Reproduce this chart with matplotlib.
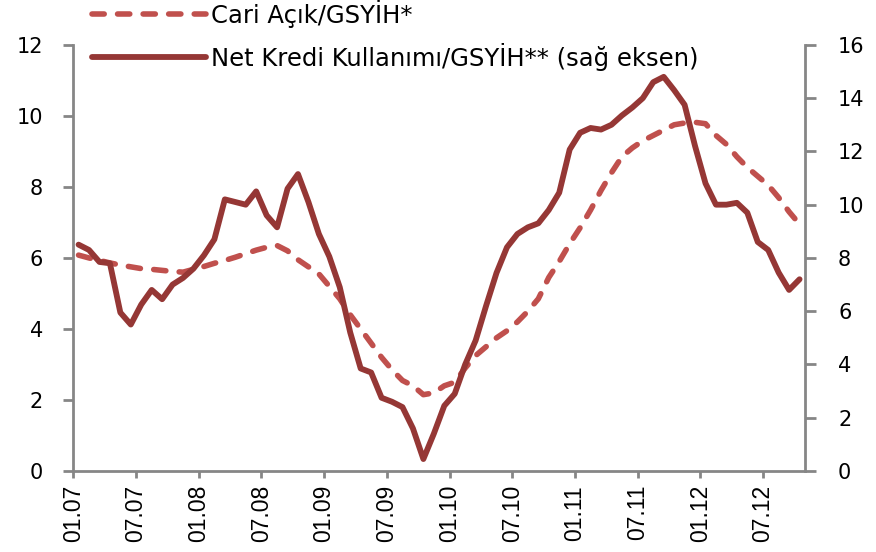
import numpy as np
import matplotlib
matplotlib.use("Agg")
import matplotlib.pyplot as plt

# aylik veriler, 01.07 - 10.12
cari_acik = [6.08, 6.0, 5.93, 5.86, 5.8, 5.75, 5.7, 5.68, 5.65, 5.62,
             5.6, 5.68, 5.76, 5.85, 5.93, 6.02, 6.12, 6.22, 6.3, 6.35,
             6.2, 5.95, 5.75, 5.55, 5.2, 4.85, 4.4, 4.0, 3.6, 3.2,
             2.85, 2.55, 2.4, 2.15, 2.2, 2.4, 2.5, 2.9, 3.25, 3.5,
             3.75, 3.95, 4.2, 4.5, 4.85, 5.45, 5.9, 6.4, 6.85, 7.35,
             7.9, 8.4, 8.85, 9.1, 9.3, 9.45, 9.6, 9.75, 9.8, 9.82,
             9.78, 9.45, 9.2, 8.85, 8.55, 8.3, 8.05, 7.7, 7.3, 6.95]

net_kredi = [8.5, 8.3, 7.85, 7.8, 5.95, 5.5, 6.25, 6.8, 6.45, 7.0,
             7.25, 7.6, 8.1, 8.7, 10.2, 10.1, 10.0, 10.5, 9.6, 9.15,
             10.6, 11.15, 10.1, 8.9, 8.05, 6.9, 5.2, 3.85, 3.7, 2.75,
             2.6, 2.4, 1.6, 0.45, 1.4, 2.45, 2.9, 4.0, 4.9, 6.2,
             7.44, 8.4, 8.9, 9.15, 9.3, 9.8, 10.45, 12.07, 12.7, 12.88,
             12.82, 13.0, 13.35, 13.65, 14.0, 14.6, 14.8, 14.3, 13.75, 12.2,
             10.8, 10.0, 10.0, 10.07, 9.7, 8.6, 8.3, 7.45, 6.8, 7.2]

tick_labels = ['01.07', '07.07', '01.08', '07.08', '01.09', '07.09',
               '01.10', '07.10', '01.11', '07.11', '01.12', '07.12']

x = np.arange(len(cari_acik)) + 0.5
grey = '#868686'

fig = plt.figure(figsize=(8.76, 5.52), dpi=100)
ax = fig.add_axes([0.0837, 0.1467, 0.835, 0.772])
ax2 = ax.twinx()

l1, = ax.plot(x, cari_acik, color='#C0504D', lw=4.0, linestyle=(0, (2.2, 2.4)),
              dash_capstyle='round', solid_joinstyle='round',
              label='Cari Açık/GSYİH*')
l2, = ax2.plot(x, net_kredi, color='#953735', lw=4.2, solid_joinstyle='round',
               solid_capstyle='round', label='Net Kredi Kullanımı/GSYİH** (sağ eksen)')

ax.set_xlim(0, len(cari_acik))
ax.set_ylim(0, 12)
ax2.set_ylim(0, 16)
ax.set_yticks(range(0, 13, 2))
ax2.set_yticks(range(0, 17, 2))
ax.set_xticks(np.arange(0, 72, 6))
ax.set_xticklabels(tick_labels, rotation=90)

for a in (ax, ax2):
    for s in a.spines.values():
        s.set_color(grey)
        s.set_linewidth(2)
    a.spines['top'].set_visible(False)
    a.tick_params(colors=grey, width=2, labelcolor='black')
ax.spines['right'].set_visible(False)
ax2.spines['left'].set_visible(False)
ax2.spines['bottom'].set_visible(False)
ax.tick_params(axis='x', length=5, pad=5)
ax.tick_params(axis='y', length=7, pad=15)
ax2.tick_params(axis='y', length=8, pad=16)

# fontlar en sonda
plt.setp(ax.get_xticklabels(), family='Liberation Sans', fontsize=16.5)
plt.setp(ax.get_yticklabels() + ax2.get_yticklabels(), family='DejaVu Sans', fontsize=15)

fig.legend(handles=[l1, l2], loc='upper left', bbox_to_anchor=(0.105, 1.0),
           frameon=False, prop={'family': 'DejaVu Sans', 'size': 17.5},
           handlelength=4.7, labelspacing=0.6, handletextpad=0.2,
           borderpad=0, borderaxespad=0)

fig.savefig('out.png', dpi=100)
